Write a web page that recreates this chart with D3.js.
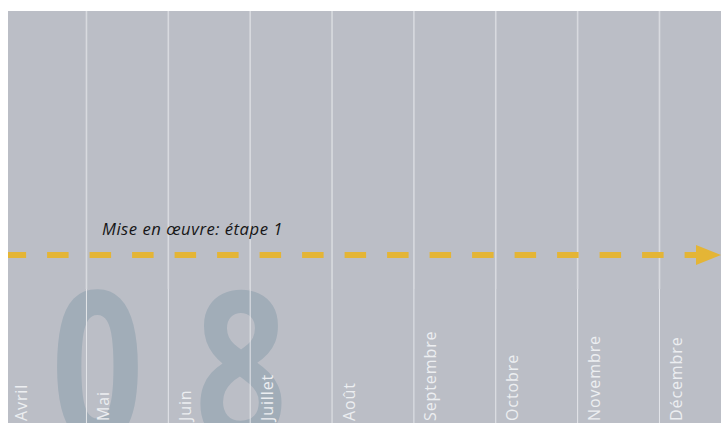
<!DOCTYPE html>
<html><head><meta charset="utf-8">
<script src="https://cdn.jsdelivr.net/npm/d3@7"></script>
<style>html,body{margin:0;padding:0;background:#fff;} svg{display:block}</style>
</head><body>
<script>
// ---- data ----
const months = ["Avril","Mai","Juin","Juillet","Août","Septembre","Octobre","Novembre","Décembre"];
const phaseLabels = ["Mise en œuvre: étape 1"];
const phaseStart = ["Avril"];
const phaseEnd = ["Décembre"];
const phaseLabelMonth = ["Mai"];
const yearDigits = ["0","8"];

// ---- layout ----
const W = 721, H = 423;
const panel = {x0: 8, y0: 11, x1: 721, y1: 423};
const splitY = 289;      // where the upper grid segment ends
const arrowY = 255;

const svg = d3.select("body").append("svg").attr("width", W).attr("height", H);

const x = d3.scaleBand().domain(months).range([4.6, 4.6 + 81.86 * months.length]);
const xd = d3.scalePoint().domain(yearDigits).range([97.5, 241]);

svg.append("clipPath").attr("id", "clip")
  .append("rect").attr("x", panel.x0).attr("y", panel.y0)
  .attr("width", panel.x1 - panel.x0).attr("height", panel.y1 - panel.y0);

const g = svg.append("g").attr("clip-path", "url(#clip)");

g.append("rect").attr("x", panel.x0).attr("y", panel.y0)
  .attr("width", panel.x1 - panel.x0).attr("height", panel.y1 - panel.y0)
  .attr("fill", "#bbbec6");

// big year digits
g.selectAll("text.digit").data(yearDigits).enter().append("text")
  .attr("class", "digit")
  .attr("transform", d => `translate(${xd(d)},442) scale(0.77,1)`)
  .attr("text-anchor", "middle")
  .attr("font-family", "'Open Sans', sans-serif")
  .attr("font-weight", 700)
  .attr("font-size", 210)
  .attr("fill", "#a1adb8")
  .text(d => d);

// grid lines
const bounds = months.slice(1);
g.selectAll("line.up").data(bounds).enter().append("line")
  .attr("class", "up")
  .attr("x1", d => x(d)).attr("x2", d => x(d))
  .attr("y1", panel.y0).attr("y2", splitY)
  .attr("stroke", "#d8dadf").attr("stroke-width", 1.6);
g.selectAll("line.low").data(bounds).enter().append("line")
  .attr("class", "low")
  .attr("x1", d => x(d)).attr("x2", d => x(d))
  .attr("y1", splitY).attr("y2", panel.y1)
  .attr("stroke", "#e4e6ea").attr("stroke-width", 1);

// month labels
g.selectAll("text.month").data(months).enter().append("text")
  .attr("class", "month")
  .attr("transform", d => `translate(${x(d) + 22.5},${panel.y1 - 2}) rotate(-90)`)
  .attr("font-family", "'Open Sans', sans-serif")
  .attr("font-size", 16)
  .attr("letter-spacing", 0.9)
  .attr("fill", "#eceef1")
  .text(d => d);

// phase arrows
const headLen = 25, headHalf = 10;
phaseLabels.forEach((lab, i) => {
  const xs = Math.max(panel.x0, x(phaseStart[i]));
  const xe = Math.min(panel.x1, x(phaseEnd[i]) + x.bandwidth());
  g.append("line")
    .attr("x1", xs).attr("x2", xe - headLen)
    .attr("y1", arrowY).attr("y2", arrowY)
    .attr("stroke", "#e4b536").attr("stroke-width", 6)
    .attr("stroke-dasharray", "21.5,21")
    .attr("stroke-dashoffset", xs - x(phaseStart[i]));
  g.append("path")
    .attr("d", `M${xe - headLen},${arrowY - headHalf}L${xe},${arrowY}L${xe - headLen},${arrowY + headHalf}Z`)
    .attr("fill", "#e4b536");
  g.append("text")
    .attr("x", x(phaseLabelMonth[i]) + 15.5)
    .attr("y", 235)
    .attr("font-family", "'Open Sans', sans-serif")
    .attr("font-style", "italic")
    .attr("font-size", 16)
    .attr("letter-spacing", 0.5)
    .attr("textLength", 181)
    .attr("lengthAdjust", "spacingAndGlyphs")
    .attr("fill", "#161616")
    .text(lab);
});
</script>
</body></html>
